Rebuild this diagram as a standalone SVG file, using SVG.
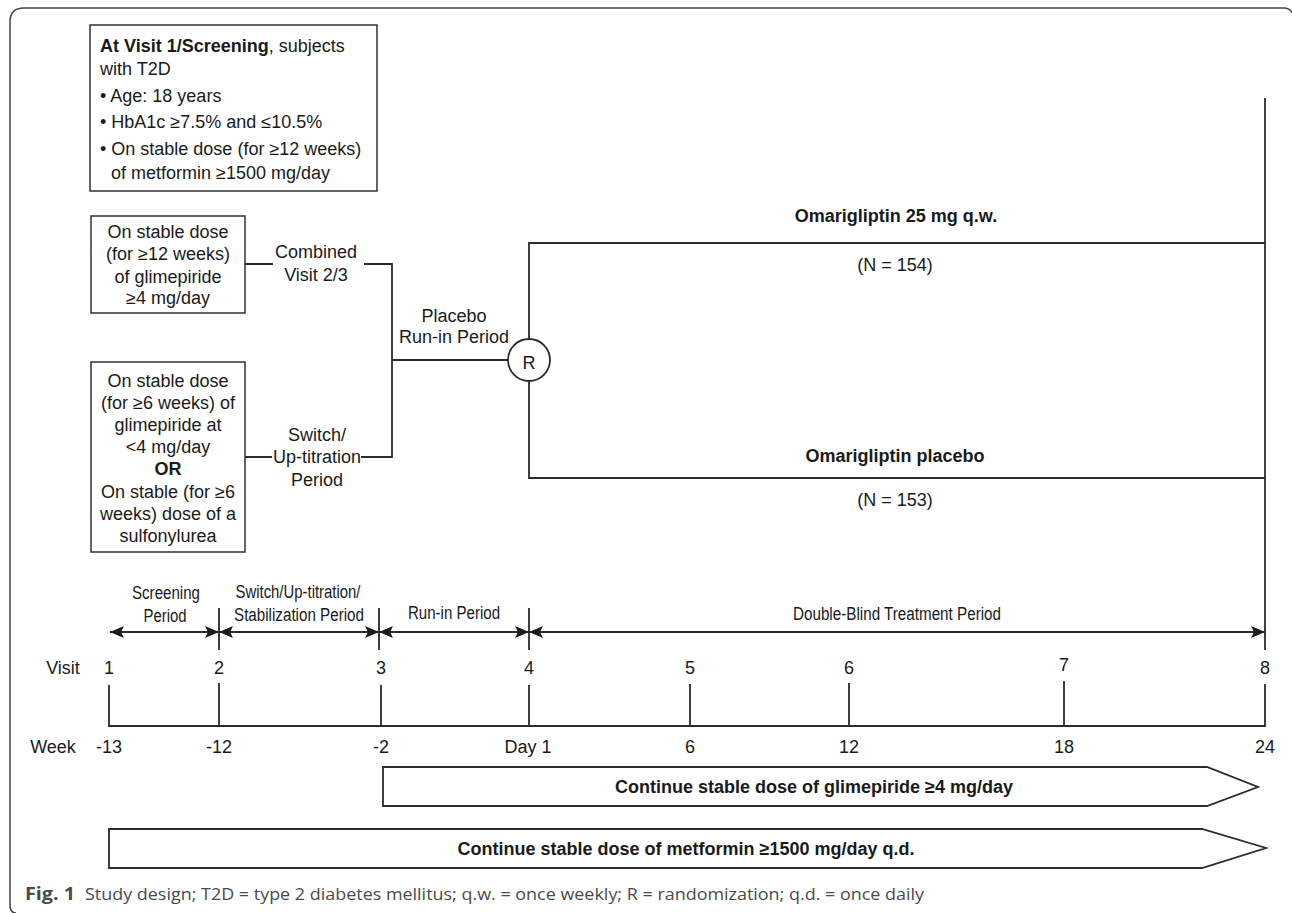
<svg xmlns="http://www.w3.org/2000/svg" width="1292" height="913" viewBox="0 0 1292 913">
<style>
.ln{fill:none;stroke:#2b2b2b;stroke-width:1.8}
.box{fill:#fff;stroke:#333;stroke-width:1.5}
.t{font-family:"Liberation Sans",Arial,sans-serif;font-size:18px;fill:#1a1a1a}
.c{text-anchor:middle}
.b{font-weight:bold}
.n{font-family:"Liberation Sans Narrow","Liberation Sans",Arial,sans-serif;font-size:18px;fill:#1a1a1a;text-anchor:middle}
.cap{font-family:"Open Sans","DejaVu Sans",sans-serif;font-size:17px;fill:#4a4a4a}
</style>
<defs>
<marker id="ah" markerUnits="userSpaceOnUse" markerWidth="15" markerHeight="12" refX="14" refY="6" orient="auto-start-reverse">
<path d="M0,0 L14,6 L0,12 L3,6 z" fill="#1a1a1a"/>
</marker>
</defs>
<rect width="1292" height="913" fill="#fff"/>
<path d="M16 913 Q10 913 10 905 V22 Q10 8 24 8 H1284 Q1290 8 1293 14" fill="none" stroke="#444" stroke-width="1.5"/>

<g id="screening-box">
<rect class="box" x="90" y="25" width="287" height="166"/>
<text class="t" x="100" y="52" font-size="18.5"><tspan class="b">At Visit 1/Screening</tspan>, subjects</text>
<text class="t" x="100" y="75" font-size="18.5">with T2D</text>
<text class="t" x="100" y="102" font-size="18.5">• Age: 18 years</text>
<text class="t" x="100" y="128" font-size="18.5">• HbA1c ≥7.5% and ≤10.5%</text>
<text class="t" x="100" y="155" font-size="18.5">• On stable dose (for ≥12 weeks)</text>
<text class="t" x="111" y="179" font-size="18.5">of metformin ≥1500 mg/day</text>
</g>

<g id="glimepiride-high-box">
<rect class="box" x="91" y="216" width="154" height="97"/>
<text class="t c" x="168" y="238">On stable dose</text>
<text class="t c" x="168" y="260">(for ≥12 weeks)</text>
<text class="t c" x="168" y="283">of glimepiride</text>
<text class="t c" x="168" y="304">≥4 mg/day</text>
</g>

<g id="glimepiride-low-box">
<rect class="box" x="91" y="362" width="154" height="190"/>
<text class="t c" x="168" y="387">On stable dose</text>
<text class="t c" x="168" y="409">(for ≥6 weeks) of</text>
<text class="t c" x="168" y="431">glimepiride at</text>
<text class="t c" x="168" y="453">&lt;4 mg/day</text>
<text class="t c b" x="168" y="475">OR</text>
<text class="t c" x="168" y="498">On stable (for ≥6</text>
<text class="t c" x="168" y="520">weeks) dose of a</text>
<text class="t c" x="168" y="542">sulfonylurea</text>
</g>

<g id="connectors">
<path class="ln" d="M245 264 H273 M364 264 H392 V457 H361 M272 457 H245"/>
<path class="ln" d="M392 360 H508"/>
<path class="ln" d="M529 339 V243 H1265 M529 381 V478 H1265"/>
<path class="ln" d="M1265 98 V650"/>
</g>

<g id="connector-labels">
<text class="t c" x="316" y="258">Combined</text>
<text class="t c" x="316" y="281">Visit 2/3</text>
<text class="t c" x="317" y="441">Switch/</text>
<text class="t c" x="317" y="463">Up-titration</text>
<text class="t c" x="317" y="486">Period</text>
<text class="t c" x="454" y="322">Placebo</text>
<text class="t c" x="454" y="343">Run-in Period</text>
</g>

<g id="randomization">
<circle cx="529" cy="360" r="21" fill="#fff" stroke="#2b2b2b" stroke-width="1.8"/>
<text class="t c" x="529" y="369" font-size="24">R</text>
</g>

<g id="arm-omarigliptin">
<text class="t c b" x="896" y="222" font-size="18.5">Omarigliptin 25 mg q.w.</text>
<text class="t c" x="895" y="271">(N = 154)</text>
</g>

<g id="arm-placebo">
<text class="t c b" x="895" y="462" font-size="18.5">Omarigliptin placebo</text>
<text class="t c" x="895" y="506">(N = 153)</text>
</g>

<g id="timeline">
<path class="ln" d="M219 608 V650 M379 608 V650 M529 608 V650"/>
<path class="ln" d="M110 632 H219" marker-start="url(#ah)" marker-end="url(#ah)"/>
<path class="ln" d="M219 632 H379" marker-start="url(#ah)" marker-end="url(#ah)"/>
<path class="ln" d="M379 632 H529" marker-start="url(#ah)" marker-end="url(#ah)"/>
<path class="ln" d="M529 632 H1265" marker-start="url(#ah)" marker-end="url(#ah)"/>
<text class="n" x="166" y="599" textLength="68" lengthAdjust="spacingAndGlyphs">Screening</text>
<text class="n" x="165" y="622" textLength="43" lengthAdjust="spacingAndGlyphs">Period</text>
<text class="n" x="298" y="598" textLength="125" lengthAdjust="spacingAndGlyphs">Switch/Up-titration/</text>
<text class="n" x="299" y="621" textLength="130" lengthAdjust="spacingAndGlyphs">Stabilization Period</text>
<text class="n" x="454" y="619" textLength="92" lengthAdjust="spacingAndGlyphs">Run-in Period</text>
<text class="n" x="897" y="620" textLength="208" lengthAdjust="spacingAndGlyphs">Double-Blind Treatment Period</text>
<path class="ln" d="M109 685 V726 H1265 V684 M219 683 V726 M381 685 V726 M529 685 V726 M690 684 V726 M849 683 V726 M1064 681 V726"/>
<text class="t c" x="63" y="674">Visit</text>
<text class="t c" x="109" y="674">1</text>
<text class="t c" x="219" y="674">2</text>
<text class="t c" x="381" y="674">3</text>
<text class="t c" x="529" y="674">4</text>
<text class="t c" x="690" y="674">5</text>
<text class="t c" x="849" y="674">6</text>
<text class="t c" x="1064" y="671">7</text>
<text class="t c" x="1265" y="674">8</text>
<text class="t c" x="53" y="753">Week</text>
<text class="t c" x="109" y="753">-13</text>
<text class="t c" x="219" y="753">-12</text>
<text class="t c" x="381" y="753">-2</text>
<text class="t c" x="528" y="753">Day 1</text>
<text class="t c" x="690" y="753">6</text>
<text class="t c" x="849" y="753">12</text>
<text class="t c" x="1064" y="753">18</text>
<text class="t c" x="1265" y="753">24</text>
</g>

<g id="bar-glimepiride">
<polygon points="383,767 1207,767 1258,787 1207,806 383,806" fill="#fff" stroke="#2b2b2b" stroke-width="1.8"/>
<text class="t c b" x="814" y="793" font-size="20">Continue stable dose of glimepiride ≥4 mg/day</text>
</g>

<g id="bar-metformin">
<polygon points="109,829 1202,829 1266,848 1202,868 109,868" fill="#fff" stroke="#2b2b2b" stroke-width="1.8"/>
<text class="t c b" x="686" y="855" font-size="20">Continue stable dose of metformin ≥1500 mg/day q.d.</text>
</g>

<g id="caption">
<text class="cap" x="25" y="900" font-weight="bold" fill="#222" textLength="50" lengthAdjust="spacingAndGlyphs">Fig. 1</text>
<text class="cap" x="85" y="900" textLength="839" lengthAdjust="spacingAndGlyphs">Study design; T2D = type 2 diabetes mellitus; q.w. = once weekly; R = randomization; q.d. = once daily</text>
</g>
</svg>
